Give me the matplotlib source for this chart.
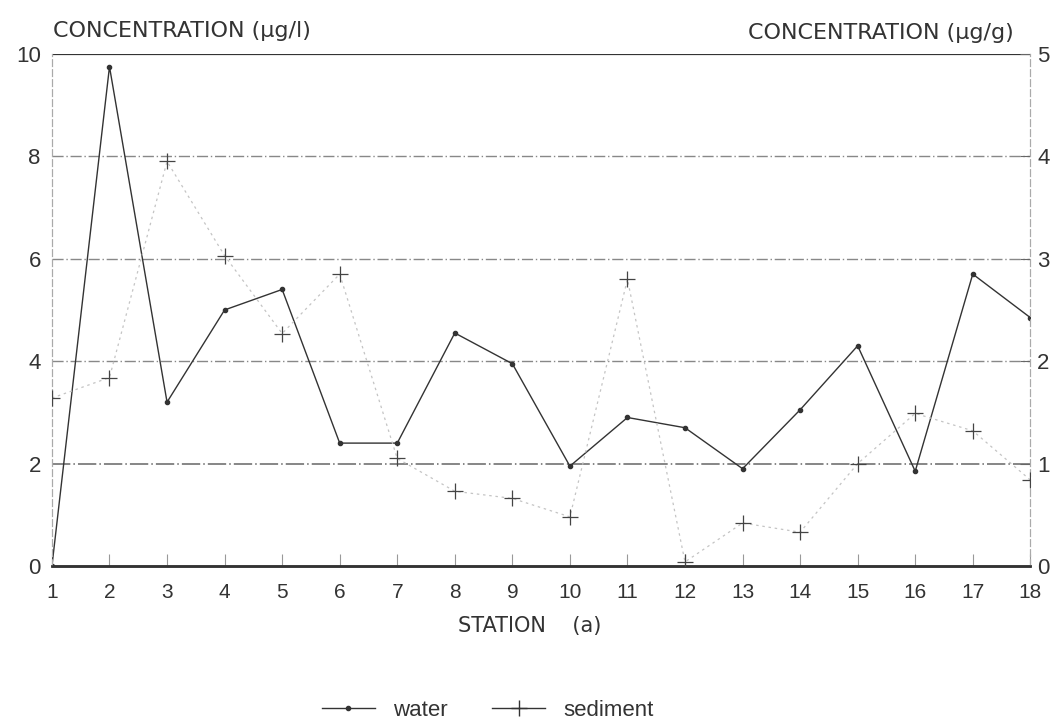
import matplotlib.pyplot as plt
import numpy as np

plt.rcParams['font.family'] = ['Liberation Sans', 'DejaVu Sans']

# data
stations = np.arange(1, 19)
water = [0.0, 9.75, 3.2, 5.0, 5.4, 2.4, 2.4, 4.55, 3.95, 1.95,
         2.9, 2.7, 1.9, 3.05, 4.3, 1.85, 5.7, 4.85]          # ug/l, left axis
sediment = [1.64, 1.84, 3.95, 3.03, 2.27, 2.85, 1.05, 0.73, 0.66, 0.48,
            2.8, 0.04, 0.42, 0.33, 1.0, 1.49, 1.32, 0.84]     # ug/g, right axis

ink = "#333333"

fig = plt.figure(figsize=(10.6, 7.28), dpi=100)
ax = fig.add_axes([0.049, 0.2225, 0.923, 0.7035])
ax2 = ax.twinx()

#gridlines
for yv in [4, 6, 8]:
    ax.axhline(yv, color="#888888", lw=1.0, ls=(0, (8, 2, 1, 2)), zorder=1)
ax.axhline(2, color="#666666", lw=1.1, ls=(0, (12, 2, 1, 2)), zorder=1)
ax.axhline(10, color=ink, lw=1.6, zorder=1)

ax.plot(stations, water, color=ink, lw=1.0, marker='o', ms=3, zorder=3)
ax2.plot(stations, sediment, color="#c4c4c4", lw=0.9, ls=(0, (2, 3)),
         marker='+', ms=11, mew=0.9, mec="#444444", zorder=3)

ax.set_xlim(1, 18)
ax.set_ylim(0, 10)
ax2.set_ylim(0, 5)

ax.set_xticks(stations)
ax.set_yticks([0, 2, 4, 6, 8, 10])
ax2.set_yticks([0, 1, 2, 3, 4, 5])

for a in (ax, ax2):
    a.spines['top'].set_visible(False)
    a.spines['bottom'].set_color(ink)
    a.spines['bottom'].set_linewidth(1.8)
    a.spines['left'].set_color("#aaaaaa")
    a.spines['left'].set_linestyle((0, (6, 3)))
    a.spines['right'].set_color("#aaaaaa")
    a.spines['right'].set_linestyle((0, (6, 3)))
    a.spines['left'].set_linewidth(0.8)
    a.spines['right'].set_linewidth(0.8)

ax.tick_params(axis='x', direction='in', length=9, color="#999999",
               labelsize=15, labelcolor=ink, pad=12)
ax.tick_params(axis='y', direction='in', length=0, labelsize=16,
               labelcolor=ink, pad=8)
ax2.tick_params(axis='y', direction='in', length=7, color="#666666",
                labelsize=16, labelcolor=ink, pad=5)

fig.text(0.050, 0.958, "CONCENTRATION (μg/l)", fontsize=16, color=ink,
         family='DejaVu Sans', ha='left', va='center')
fig.text(0.956, 0.955, "CONCENTRATION (μg/g)", fontsize=16, color=ink,
         family='DejaVu Sans', ha='right', va='center')
fig.text(0.500, 0.140, "STATION    (a)", fontsize=15, color=ink,
         family='DejaVu Sans', ha='center', va='center')

ax.plot([], [], color=ink, lw=1.0, marker='o', ms=3, label="water")
ax.plot([], [], color=ink, lw=1.0, marker='+', ms=11, label="sediment")
fig.legend(loc='center', bbox_to_anchor=(0.46, 0.024), ncol=2, frameon=False,
           fontsize=16, handlelength=2.4, columnspacing=2.0,
           labelcolor=ink)

fig.savefig("out.png", dpi=100)
